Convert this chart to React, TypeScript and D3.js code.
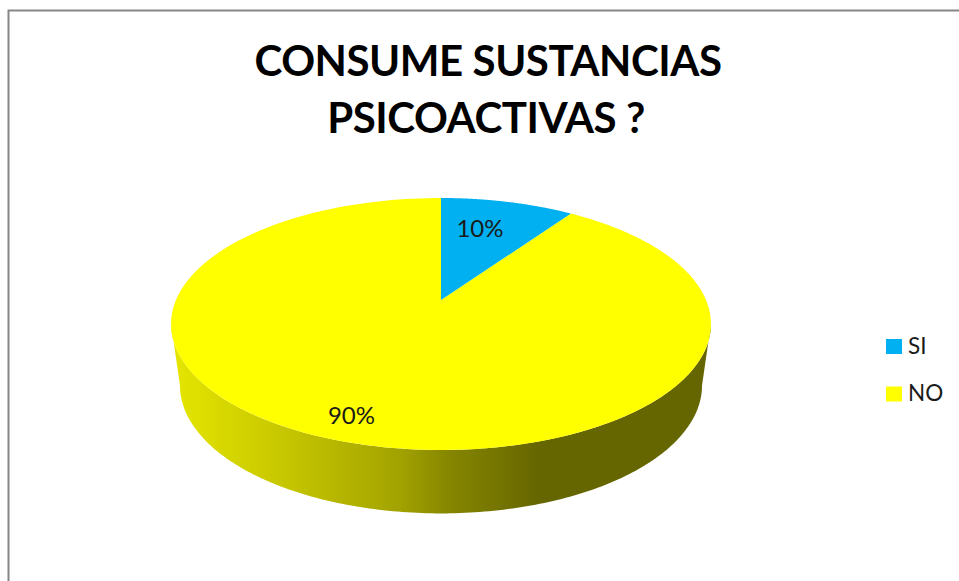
import React from "react";
import * as d3 from "d3";

const categories = ["SI", "NO"];
const shares = [9.6, 90.4];
const sliceLabels = ["10%", "90%"];
const titleLines = ["CONSUME SUSTANCIAS", "PSICOACTIVAS ?"];

const sliceColors = ["#00B0F0", "#FFFF00"];
const labelAnchors = [{ x: 480, y: 237 }, { x: 351.5, y: 424 }];
const FONT = "Lato, 'Open Sans', sans-serif";

// Tilted-disc projection: a unit circle seen in perspective
const CX = 441, APEX_Y = 300, K = 48 / 252, DEPTH_A = 102 * (1 + K);
const xScale = d3.scaleLinear().domain([-1, 1]).range([CX - 265, CX + 265]);
const yScale = d3.scaleLinear().domain([-1, 1]).range([APEX_Y + DEPTH_A, APEX_Y - DEPTH_A]);
const project = (a: number, r = 1, z = 0): [number, number] => {
  const u = r * Math.sin(a), v = r * Math.cos(a), w = 1 + K * v;
  const px = (xScale(u / w) - CX) * (1 - 0.033 * z) + CX;
  const py = (yScale(v / w) - APEX_Y) * (1 + 0.016 * z) + APEX_Y + 61 * z;
  return [px, py];
};

const pie = d3.pie<number>().sort(null).startAngle(0).endAngle(2 * Math.PI);
const arcs = pie(shares);
const line = d3.line();
const sample = (a0: number, a1: number, z = 0) =>
  d3.range(0, 181).map((i) => project(a0 + ((a1 - a0) * i) / 180, 1, z));

const wedgePath = (a0: number, a1: number) =>
  line([project(0, 0), ...sample(a0, a1)])! + "Z";

// front wall between the two widest points of the disc
const widest = Math.acos(-K);
const wallPath =
  line([...sample(widest, 2 * Math.PI - widest, 0), ...sample(2 * Math.PI - widest, widest, 1)])! + "Z";

const wallStops = [
  [0, "#e6e600"], [0.2, "#c8c800"], [0.42, "#a3a300"], [0.52, "#858500"],
  [0.68, "#666600"], [1, "#666600"],
] as [number, string][];

export default function App() {
  return (
    <svg width={959} height={581} style={{ position: "absolute", left: 0, top: 0, background: "#fff" }}>
      <defs>
        <linearGradient id="wall" gradientUnits="userSpaceOnUse" x1={171} x2={711} y1={0} y2={0}>
          {wallStops.map(([o, c]) => <stop key={o} offset={o} stopColor={c} />)}
        </linearGradient>
      </defs>
      <rect x={8.5} y={10.5} width={1000} height={700} fill="#fff" stroke="#868686" strokeWidth={2} />
      {titleLines.map((t, i) => (
        <text key={t} x={i === 0 ? 488 : 486} y={76 + i * 57} textAnchor="middle" fontFamily={FONT} fontWeight={700}
          fontSize={42} fill="#000" letterSpacing={-0.45}>{t}</text>
      ))}
      <path d={wallPath} fill="url(#wall)" />
      {[1, 0].map((i) => (
        <path key={categories[i]} d={wedgePath(arcs[i].startAngle, arcs[i].endAngle)} fill={sliceColors[i]} />
      ))}
      {sliceLabels.map((t, i) => (
        <text key={t} x={labelAnchors[i].x} y={labelAnchors[i].y} textAnchor="middle" fontFamily={FONT}
          fontSize={24} fill="#1a1a1a">{t}</text>
      ))}
      {categories.map((c, i) => (
        <g key={c}>
          <rect x={886} y={339 + i * 47.5} width={16} height={15} fill={sliceColors[i]} />
          <text x={908} y={353.5 + i * 47.5} fontFamily={FONT} fontSize={22.5} fill="#1a1a1a">{c}</text>
        </g>
      ))}
    </svg>
  );
}
